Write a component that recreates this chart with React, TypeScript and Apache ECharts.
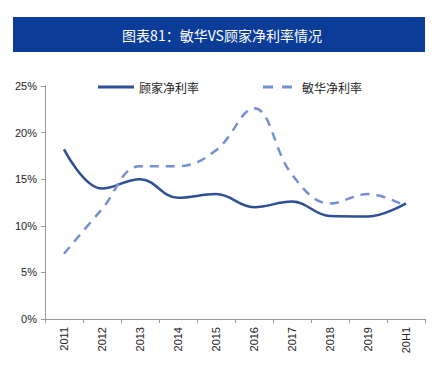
import React, { useEffect, useRef } from "react";
import * as echarts from "echarts";

const categories = ["2011", "2012", "2013", "2014", "2015", "2016", "2017", "2018", "2019", "20H1"];
const gujiaNames = "顾家净利率";
const minhuaNames = "敏华净利率";
const gujiaValues = [18.2, 14.0, 15.0, 13.0, 13.4, 12.0, 12.6, 11.05, 11.0, 12.4];
const minhuaValues = [7.0, 11.8, 16.4, 16.4, 18.1, 22.6, 15.5, 12.4, 13.4, 12.1];
const yTicks = [0, 5, 10, 15, 20, 25];
const titleText = "图表81：敏华VS顾家净利率情况";

export default function App() {
  const ref = useRef<HTMLDivElement>(null);
  useEffect(() => {
    if (!ref.current) return;
    const chart = echarts.init(ref.current, undefined, { renderer: "svg" });
    const font = "'Noto Sans CJK SC', sans-serif";
    const legendText = { fontSize: 12, color: "#222", fontFamily: font };
    chart.setOption({
      animation: false,
      backgroundColor: "#fff",
      graphic: [
        {
          type: "rect",
          shape: { x: 13, y: 17, width: 412, height: 35 },
          style: { fill: "#0B3D98" },
        },
        {
          type: "text",
          x: 222,
          y: 35,
          style: {
            text: titleText,
            fill: "#fff",
            font: "14px " + font,
            align: "center",
            verticalAlign: "middle",
          },
        },
      ],
      legend: [
        {
          left: 98,
          top: 81,
          padding: [0, 0, 0, 0],
          itemWidth: 36,
          itemHeight: 3,
          symbolKeepAspect: false,
          textStyle: legendText,
          data: [{ name: gujiaNames, icon: "path://M0,0H36V3H0Z" }],
        },
        {
          left: 263,
          top: 81,
          padding: [0, 0, 0, 0],
          itemWidth: 29,
          itemHeight: 3,
          symbolKeepAspect: false,
          textStyle: { ...legendText, padding: [0, 0, 0, 5] },
          data: [{ name: minhuaNames, icon: "path://M0,0H10V3H0Z M19,0H29V3H19Z" }],
        },
      ],
      grid: { left: 45, right: 10, top: 86, bottom: 56, containLabel: false },
      xAxis: {
        type: "category",
        data: categories,
        boundaryGap: true,
        axisLine: { lineStyle: { color: "#999", width: 1 } },
        axisTick: { show: true, alignWithLabel: false, length: 4, lineStyle: { color: "#999" } },
        axisLabel: {
          rotate: 90,
          color: "#222",
          fontSize: 11,
          fontFamily: "Arial, 'Liberation Sans', sans-serif",
          margin: 8,
          interval: 0,
        },
      },
      yAxis: {
        type: "value",
        min: 0,
        max: 25,
        interval: 5,
        splitLine: { show: false },
        axisLine: { show: true, lineStyle: { color: "#999", width: 1 } },
        axisTick: { show: true, length: 4, lineStyle: { color: "#999" } },
        axisLabel: {
          color: "#222",
          fontSize: 11,
          fontFamily: "Arial, 'Liberation Sans', sans-serif",
          margin: 8,
          formatter: (v: number) => (yTicks.includes(v) ? v + "%" : ""),
        },
      },
      series: [
        {
          name: gujiaNames,
          type: "line",
          data: gujiaValues,
          smooth: 0.4,
          symbol: "none",
          lineStyle: { color: "#2F4F98", width: 2.5 },
          itemStyle: { color: "#2F4F98" },
        },
        {
          name: minhuaNames,
          type: "line",
          data: minhuaValues,
          smooth: 0.4,
          symbol: "none",
          lineStyle: { color: "#7390D2", width: 2.5, type: [9, 7] },
          itemStyle: { color: "#7390D2" },
        },
      ],
    });
    return () => chart.dispose();
  }, []);
  return <div ref={ref} style={{ width: 435, height: 375, position: "absolute", left: 0, top: 0 }} />;
}
